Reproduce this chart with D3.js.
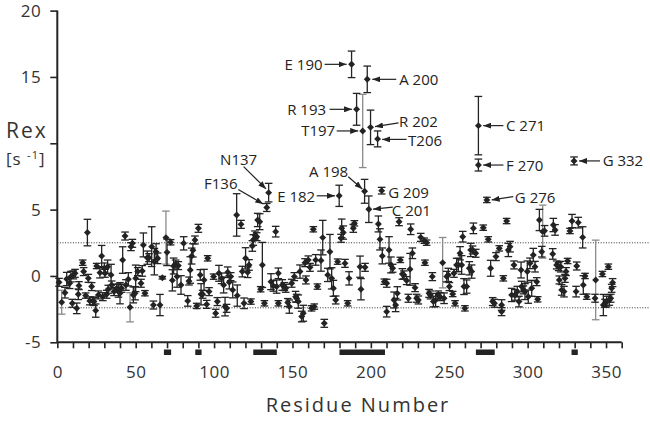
<!DOCTYPE html>
<html>
<head>
<meta charset="utf-8">
<script src="https://cdn.jsdelivr.net/npm/d3@7"></script>
<style>
  body { margin: 0; background: #fff; }
  svg { display: block; font-family: "Open Sans", "Noto Sans", sans-serif; }
</style>
</head>
<body>
<div id="chart"></div>
<script>
// Residue, Rex, error  (black error bars)
var blackPoints = [
  [1.1,-0.48,0.3],[4.9,-1.26,0.4],[6.0,-0.23,0.5],[7.9,-0.55,0.4],[8.7,-0.05,0.4],[9.6,-2.06,0.3],
  [10.2,0.08,0.3],[11.3,0.2,0.3],[12.4,-2.44,0.4],[13.4,-1.38,0.4],[13.8,-0.73,0.3],[16.2,1.0,0.2],
  [16.8,0.33,0.3],[18.1,-1.48,0.2],[19.2,3.27,1.0],[19.8,-0.18,0.3],[20.7,-1.88,0.3],[21.9,-0.8,0.3],
  [22.6,-1.88,0.3],[23.4,-1.93,0.3],[24.5,-2.61,0.5],[25.1,0.75,0.2],[26.2,-1.43,0.3],[27.2,0.25,0.4],
  [28.3,1.5,0.8],[29.0,-1.56,0.3],[30.0,0.58,0.4],[30.4,0.2,0.3],[31.5,-1.38,0.3],[32.1,0.7,0.5],
  [32.5,-1.0,0.3],[34.3,0.08,0.8],[34.7,-0.68,0.3],[36.2,-1.18,0.3],[37.9,-0.93,0.3],[39.0,-1.1,0.5],
  [40.0,-1.3,0.8],[41.0,-0.93,0.3],[41.7,1.2,1.0],[43.2,3.01,0.3],[43.8,-0.68,0.4],[45.3,-0.25,0.5],
  [47.0,2.21,0.3],[47.9,2.46,0.3],[48.5,-1.43,0.6],[49.6,-1.3,0.5],[50.0,-0.18,1.0],[51.3,0.33,0.3],
  [53.4,-0.55,0.3],[54.2,0.38,0.4],[54.9,2.34,0.9],[55.9,-1.3,0.2],[57.4,1.38,0.5],[58.5,1.38,0.3],
  [60.2,2.21,1.5],[61.3,-2.19,0.3],[61.9,1.08,1.0],[63.0,1.83,0.6],[64.0,1.33,0.4],[65.5,-2.19,0.8],
  [67.0,-0.13,0.1],[70.0,1.78,1.0],[72.3,2.54,0.2],[73.4,-0.33,0.8],[74.2,0.75,0.6],[75.5,0.9,0.3],
  [76.4,-0.05,0.8],[77.2,0.78,0.3],[78.9,-0.68,0.7],[80.6,2.46,0.5],[83.2,-1.88,0.4],[84.0,-0.38,0.3],
  [84.8,0.45,1.0],[85.7,1.5,0.6],[86.5,1.93,0.5],[87.8,2.71,0.3],[88.9,-2.26,0.2],[90.0,3.59,0.3],
  [91.2,0.08,0.4],[91.7,-1.38,0.8],[92.7,-1.38,0.3],[93.6,-0.3,0.8],[95.3,-2.14,0.3],[95.9,1.33,0.2],
  [96.8,-1.18,0.3],[99.7,-0.05,0.2],[101.0,-2.81,0.3],[102.1,-1.93,0.3],[103.1,0.2,0.6],[104.8,-0.18,0.4],
  [106.1,-0.68,0.6],[107.0,-2.31,0.7],[108.0,-2.44,0.3],[108.7,0.28,0.4],[109.7,-0.48,0.5],[110.6,-0.05,0.3],
  [111.9,-1.05,0.6],[114.4,4.6,1.6],[114.8,-1.48,0.8],[117.2,3.89,0.3],[118.0,0.33,0.4],[119.1,-2.06,0.4],
  [120.1,1.33,0.8],[121.4,0.28,0.4],[122.3,0.83,0.4],[123.5,-1.93,0.2],[124.4,2.26,0.4],[125.0,2.71,0.4],
  [126.1,3.09,0.3],[127.2,2.96,0.3],[127.8,4.22,0.5],[129.1,4.09,0.6],[129.7,-1.0,0.2],[130.8,0.83,1.7],
  [132.1,-2.06,0.2],[133.6,5.16,0.3],[134.8,6.28,0.7],[136.3,-0.43,0.6],[137.8,-0.75,0.4],[139.3,3.34,0.4],
  [139.9,-0.8,0.5],[141.0,0.2,0.4],[141.0,-2.06,0.2],[143.5,-0.68,0.4],[144.8,-0.8,0.3],[145.7,-0.93,0.3],
  [147.0,-2.0,0.3],[148.0,-2.31,0.5],[149.5,-0.55,0.3],[151.2,-0.05,0.3],[152.0,-1.56,0.4],[152.7,-1.68,0.3],
  [153.7,-1.93,0.5],[154.8,0.33,0.5],[155.9,-3.06,0.4],[156.9,-2.81,0.6],[158.0,1.0,0.3],[158.6,-0.3,0.3],
  [160.1,1.21,0.3],[161.2,0.65,0.3],[162.2,-2.44,0.2],[163.3,3.52,0.2],[163.9,-2.31,0.2],[164.8,1.21,0.4],
  [165.9,-0.8,0.2],[168.2,1.16,0.8],[169.3,2.89,1.3],[170.3,-3.57,0.3],[172.5,0.08,0.5],[173.9,1.83,1.3],
  [175.0,-0.18,0.8],[176.1,-0.93,0.6],[177.6,-1.81,0.3],[178.8,1.08,0.2],[179.8,6.04,0.8],[181.0,2.84,0.3],
  [181.4,3.59,0.7],[182.4,3.27,0.5],[183.5,0.95,0.3],[185.2,-2.06,0.2],[186.1,-0.18,0.5],[187.7,15.95,1.0],
  [188.8,3.59,0.3],[189.5,3.97,0.2],[190.9,12.56,1.2],[193.1,0.7,0.8],[193.7,-1.0,0.8],[196.0,6.38,0.9],
  [196.3,0.65,0.3],[197.7,14.82,1.0],[198.7,5.03,1.0],[199.8,11.2,1.3],[204.3,10.33,0.6],[204.8,3.92,0.6],
  [205.8,2.76,0.8],[206.9,6.43,0.25],[207.3,1.51,0.6],[208.6,-0.43,0.2],[210.1,-0.55,0.3],[210.1,-2.69,0.4],
  [211.6,1.96,1.0],[212.8,0.83,0.6],[213.9,0.58,0.3],[214.8,-1.81,0.6],[215.8,-2.19,0.5],[216.9,-1.31,0.5],
  [218.0,4.09,0.3],[218.8,1.21,0.2],[220.1,0.15,0.4],[221.1,0.08,0.3],[222.8,-0.35,0.3],[223.9,-1.68,0.3],
  [225.0,0.5,1.2],[225.4,3.52,0.4],[226.5,1.71,0.4],[228.2,-0.88,0.3],[229.2,-1.68,0.3],[230.3,-1.81,0.3],
  [231.8,2.91,0.3],[234.1,2.66,0.2],[234.5,1.0,0.2],[235.6,2.51,0.2],[237.1,-1.31,0.3],[238.0,-1.43,0.3],
  [239.2,-0.05,0.3],[239.9,-1.93,0.4],[241.3,-1.81,0.5],[243.0,-1.43,0.3],[244.1,-1.56,0.3],[246.7,-1.68,0.4],
  [248.4,-0.05,0.4],[249.4,0.08,0.5],[250.1,-0.8,0.3],[252.2,-1.36,0.2],[253.0,0.2,0.3],[253.7,-2.06,0.2],
  [254.7,0.83,0.5],[255.8,0.83,0.5],[256.9,1.71,0.5],[257.9,0.83,0.7],[258.6,2.96,0.4],[259.4,-0.8,0.6],
  [260.0,-2.44,0.2],[261.1,-0.8,0.5],[262.8,0.58,0.5],[263.7,1.96,0.5],[264.3,0.33,0.5],[264.9,1.96,0.3],
  [265.4,3.59,0.4],[266.9,1.71,0.3],[268.6,8.36,0.45],[268.6,11.33,2.2],[271.7,3.64,0.2],[274.0,5.73,0.2],
  [274.9,2.76,0.2],[276.4,0.58,0.6],[277.7,-1.93,0.3],[278.8,-2.06,0.3],[279.8,1.46,0.3],[281.9,2.08,0.2],
  [283.4,-2.19,0.4],[283.4,-2.69,0.3],[284.5,-0.18,0.2],[286.6,4.14,0.2],[287.7,1.96,0.5],[288.8,2.21,0.4],
  [289.8,-1.43,0.5],[291.3,0.83,0.3],[291.9,-1.43,0.4],[293.4,-1.18,0.4],[294.5,-1.93,0.4],[295.8,0.45,0.6],
  [296.2,-0.8,0.4],[297.3,-1.05,0.3],[298.3,-1.18,0.6],[299.8,0.33,0.8],[300.4,-1.56,0.5],[301.5,0.95,0.4],
  [302.6,-0.93,0.6],[303.6,1.58,0.5],[304.7,0.7,0.4],[305.8,-0.43,0.3],[306.4,-1.76,0.2],[307.5,4.22,0.8],
  [309.0,1.83,0.4],[310.8,3.4,0.4],[316.0,1.66,0.4],[316.4,3.84,0.5],[317.5,3.47,0.4],[318.5,0.83,0.3],
  [319.8,0.7,0.3],[320.2,-0.3,0.3],[321.1,0.7,0.4],[321.7,-1.05,0.4],[323.2,-1.18,0.4],[323.8,-0.18,0.3],
  [324.5,0.33,0.3],[325.5,1.13,0.2],[327.0,3.39,0.2],[328.3,4.14,0.5],[329.6,8.67,0.3],[330.9,-1.18,0.4],
  [331.3,0.75,0.3],[332.3,4.02,0.4],[335.1,2.91,0.8],[335.5,-0.68,0.7],[336.6,0.0,0.2],[337.7,-1.56,0.2],
  [343.0,-1.68,0.3],[347.7,0.15,0.2],[348.3,-2.19,0.8],[349.4,-2.06,0.3],[350.4,-1.93,0.4],[351.5,0.7,0.2],
  [352.1,-1.81,0.4],[353.0,-1.68,0.3],[353.6,-0.93,0.3],[354.2,-0.5,0.3]
];

// Residue, Rex, error  (grey error bars)
var greyPoints = [
  [2.8,-1.98,0.9],[46.4,-2.36,1.1],[69.3,2.89,2.0],[194.8,10.93,2.76],
  [245.8,1.0,1.9],[309.6,3.34,2.0],[343.4,-0.3,3.0]
];

// Labelled residues: text and plotted residue position
var labelNames = ["E 190", "A 200", "R 193", "T197", "R 202", "T206", "N137", "F136",
                  "E 182", "A 198", "G 209", "C 201", "C 271", "F 270", "G 332", "G 276"];
var labelRes   = [187.7, 197.7, 190.9, 194.8, 199.8, 204.3, 134.8, 133.6,
                  179.8, 196.0, 206.9, 198.7, 268.6, 268.6, 329.6, 274.0];
var labelRex   = [15.95, 14.82, 12.56, 10.93, 11.2, 10.33, 6.28, 5.16,
                  6.04, 6.38, 6.43, 5.03, 11.33, 8.36, 8.67, 5.73];

// Secondary structure elements along the sequence
var ssStart = [68, 88, 125, 180, 267, 328];
var ssEnd   = [72.6, 92, 140, 209, 279, 332];

var xTickLabels = [0, 50, 100, 150, 200, 250, 300, 350];
var yTicks = [-5, 0, 5, 10, 15, 20];
var yTickLabels = [-5, 0, 5, 15, 20];   // 10 is covered by the axis title
var cutoffs = [2.5, -2.4];

(function (d3) {
  "use strict";

  var width = 650,
      height = 421,
      ink = "#232323",
      grey = "#8a8a8a",
      svg = null,
      x = null,
      y = null,
      diamond = null;

  // Label layout: text offset, anchor, arrow from/to (relative to the marker)
  var labelLayout = {
    "E 190": { tx: -29, ty: 6, a: "end", arrow: [-27, 0, -5, 0] },
    "A 200": { tx: 32, ty: 6, a: "start", arrow: [29, 0, 5, 0] },
    "R 193": { tx: -30.5, ty: 5.5, a: "end", arrow: [-27, 0, -4.5, 0] },
    "T197":  { tx: -27.5, ty: 5.5, a: "end", arrow: [-26, 0, -4.5, 0] },
    "R 202": { tx: 28.5, ty: -0.5, a: "start", arrow: [28, -4.5, 4.5, -0.7] },
    "T206":  { tx: 30.5, ty: 7, a: "start", arrow: [29, 0.5, 4.5, 0.5] },
    "N137":  { tx: -30, ty: -28, a: "middle", arrow: [-25, -26, -2.6, -3.7] },
    "F136":  { tx: -46, ty: -18, a: "middle", arrow: [-28.5, -18, -3.5, -3.5] },
    "E 182": { tx: -24, ty: 6.4, a: "end", arrow: [-22.5, 0, -4.2, 0] },
    "A 198": { tx: -36, ty: -14, a: "middle", arrow: [-16.3, -14.6, -2.3, -2.3] },
    "G 209": { tx: 6.6, ty: 7, a: "start", arrow: null },
    "C 201": { tx: 23, ty: 7.2, a: "start", arrow: [24, -2, 4.2, 0] },
    "C 271": { tx: 27.6, ty: 5.8, a: "start", arrow: [25, 0, 4.8, 0] },
    "F 270": { tx: 27.6, ty: 6.1, a: "start", arrow: [25, 0, 4.8, 0] },
    "G 332": { tx: 28.6, ty: 5.5, a: "start", arrow: [26, 0, 5, 0] },
    "G 276": { tx: 28, ty: 3.2, a: "start", arrow: [26.4, -3.3, 4.8, 0] }
  };

  x = d3.scaleLinear().domain([0, 360]).range([57.3, 621.7]);
  y = d3.scaleLinear().domain([-5, 20]).range([342.3, 10.6]);
  diamond = d3.symbol().type(d3.symbolSquare).size(24);

  svg = d3.select("#chart").append("svg")
    .attr("width", width)
    .attr("height", height);

  svg.append("defs").append("marker")
    .attr("id", "head")
    .attr("viewBox", "0 0 8 6")
    .attr("refX", 8).attr("refY", 3)
    .attr("markerUnits", "userSpaceOnUse")
    .attr("markerWidth", 8).attr("markerHeight", 6)
    .attr("orient", "auto")
    .append("path")
    .attr("d", "M0,0 L8,3 L0,6 Z")
    .attr("fill", ink);

  // Dotted cut-off lines
  svg.selectAll("line.cut")
    .data(cutoffs)
    .enter().append("line")
    .attr("class", "cut")
    .attr("x1", x(0)).attr("x2", x(432))
    .attr("y1", function (d) { return y(d); })
    .attr("y2", function (d) { return y(d); })
    .attr("stroke", "#333")
    .attr("stroke-width", 1)
    .attr("stroke-dasharray", "1,1.6");

  /**
   *  drawBars
   *      Error bars with caps for one series
   */
  function drawBars(data, colour) {
    var g = svg.append("g")
      .attr("stroke", colour)
      .attr("stroke-width", 1.3)
      .attr("fill", "none");
    data.forEach(function (d) {
      var cx = x(d[0]), top = y(d[1] + d[2]), bot = y(d[1] - d[2]);
      g.append("line").attr("x1", cx).attr("x2", cx).attr("y1", top).attr("y2", bot);
      g.append("line").attr("x1", cx - 3.8).attr("x2", cx + 3.8).attr("y1", top).attr("y2", top);
      g.append("line").attr("x1", cx - 3.8).attr("x2", cx + 3.8).attr("y1", bot).attr("y2", bot);
    });
  }

  drawBars(greyPoints, grey);
  drawBars(blackPoints, ink);

  svg.append("g").selectAll("path")
    .data(blackPoints.concat(greyPoints))
    .enter().append("path")
    .attr("d", diamond)
    .attr("transform", function (d) {
      return "translate(" + x(d[0]) + "," + y(d[1]) + ") rotate(45)";
    })
    .attr("fill", ink);

  // Axes
  var yAxis = d3.axisLeft(y).tickValues(yTicks).tickSize(7).tickPadding(9)
    .tickFormat(function (d) { return yTickLabels.indexOf(d) >= 0 ? d : ""; });
  var gy = svg.append("g").attr("transform", "translate(" + x(0) + ",0)").call(yAxis);

  var xAxis = d3.axisBottom(x).tickValues(d3.range(0, 361, 10)).tickSize(6).tickPadding(18)
    .tickFormat(function (d) { return xTickLabels.indexOf(d) >= 0 ? d : ""; });
  var gx = svg.append("g").attr("transform", "translate(0," + y(-5) + ")").call(xAxis);

  [gx, gy].forEach(function (g) {
    g.select(".domain").attr("stroke", ink).attr("stroke-width", 2);
    g.selectAll(".tick line").attr("stroke", ink).attr("stroke-width", 1.6);
    g.selectAll(".tick text")
      .attr("fill", "#333")
      .style("font-size", "17px")
      .style("letter-spacing", "0.5px")
      .style("font-family", "'Open Sans', sans-serif");
  });
  gy.select(".domain").attr("d", "M0," + y(-5) + "V" + y(20));
  gx.select(".domain").attr("d", "M" + x(0) + ",0H" + x(360));

  // Secondary structure bars
  svg.selectAll("rect.ss")
    .data(ssStart)
    .enter().append("rect")
    .attr("class", "ss")
    .attr("x", function (d) { return x(d); })
    .attr("width", function (d, i) { return x(ssEnd[i]) - x(d); })
    .attr("y", 349.5)
    .attr("height", 5.5)
    .attr("fill", ink);

  // Annotations
  labelNames.forEach(function (name, i) {
    var lay = labelLayout[name],
        px = x(labelRes[i]),
        py = y(labelRex[i]);
    svg.append("text")
      .attr("x", px + lay.tx)
      .attr("y", py + lay.ty)
      .attr("text-anchor", lay.a)
      .attr("fill", ink)
      .style("font-size", "15px")
      .text(name);
    if (lay.arrow) {
      svg.append("line")
        .attr("x1", px + lay.arrow[0]).attr("y1", py + lay.arrow[1])
        .attr("x2", px + lay.arrow[2]).attr("y2", py + lay.arrow[3])
        .attr("stroke", ink)
        .attr("stroke-width", 1.2)
        .attr("marker-end", "url(#head)");
    }
  });

  // Axis titles
  svg.append("text")
    .attr("x", 6).attr("y", 138)
    .attr("fill", "#333")
    .style("font-size", "21px")
    .style("letter-spacing", "2px")
    .text("Rex");

  var unit = svg.append("text")
    .attr("x", 6).attr("y", 165)
    .attr("fill", "#333")
    .style("font-size", "17px")
    .style("letter-spacing", "1px");
  unit.append("tspan").text("[s ");
  unit.append("tspan").attr("dy", -6).style("font-size", "11px").text("-1");
  unit.append("tspan").attr("dy", 6).text("]");

  svg.append("text")
    .attr("x", 358).attr("y", 412)
    .attr("text-anchor", "middle")
    .attr("fill", "#333")
    .style("font-size", "20px")
    .style("letter-spacing", "2px")
    .text("Residue Number");
}(d3));
</script>
</body>
</html>
